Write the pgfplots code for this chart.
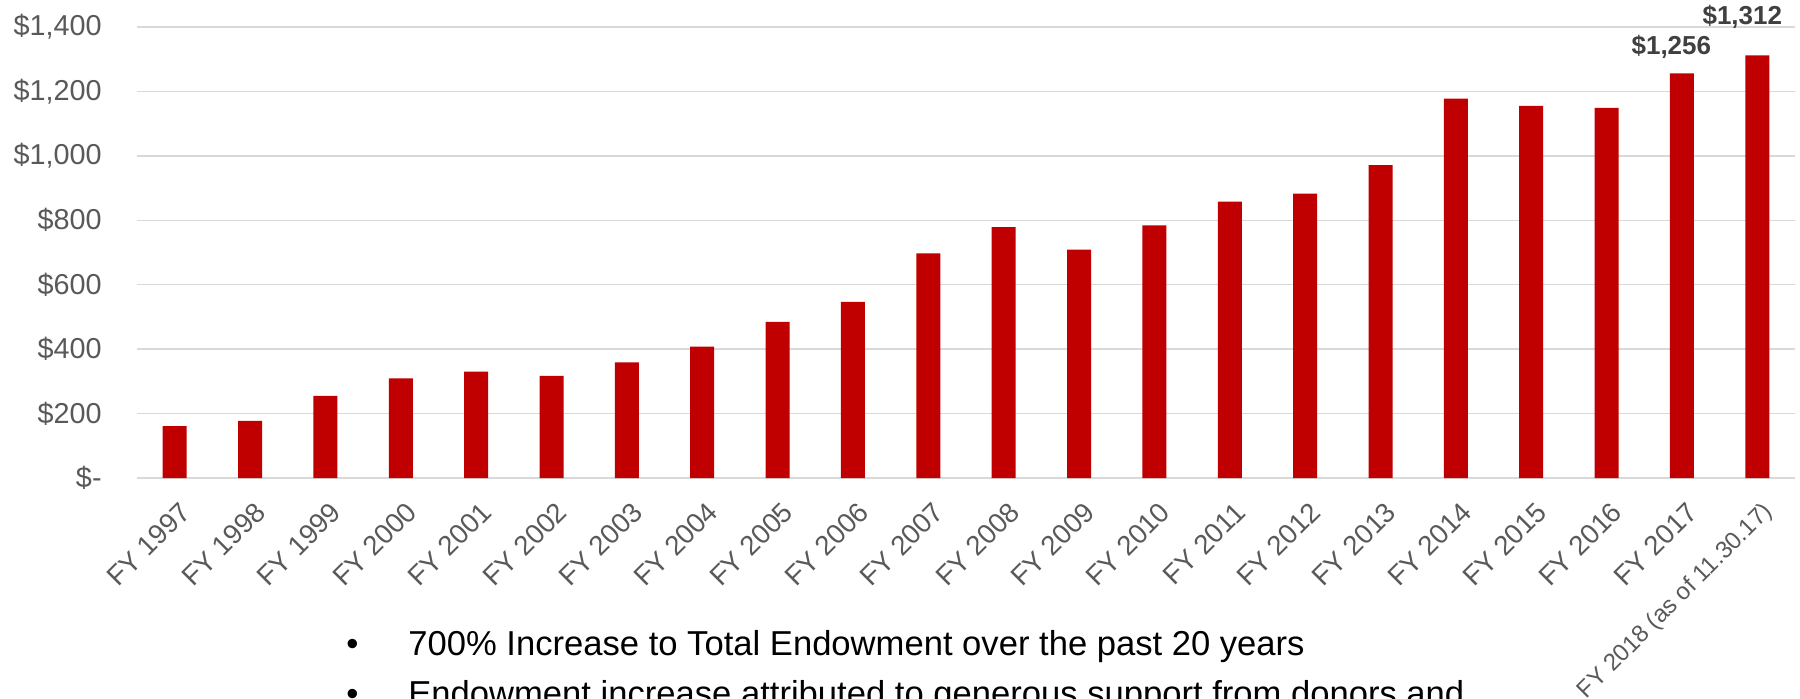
\documentclass[border=0pt]{standalone}
\usepackage{pgfplots}
\pgfplotsset{compat=1.18}
\usepackage{fontspec}
\setmainfont{Liberation Sans}
\definecolor{barred}{HTML}{C00000}
\definecolor{tickgray}{HTML}{595959}
\definecolor{gridgray}{HTML}{D9D9D9}
\definecolor{lblgray}{HTML}{404040}

\begin{document}
\begin{tikzpicture}[x=1pt,y=1pt]
\path[use as bounding box] (0,0) rectangle (900,349);
\clip (0,0) rectangle (900,349);
\begin{axis}[
    at={(68.5pt,110pt)}, anchor=south west,
    scale only axis, width=829pt, height=225.5pt,
    xmin=-0.5, xmax=21.5, ymin=0, ymax=1400,
    ytick={0,200,...,1400},
    yticklabels={{\$-},{\$200},{\$400},{\$600},{\$800},{\$1,000},{\$1,200},{\$1,400}},
    xtick={0,...,21},
    xticklabels={FY 1997,FY 1998,FY 1999,FY 2000,FY 2001,FY 2002,FY 2003,FY 2004,
        FY 2005,FY 2006,FY 2007,FY 2008,FY 2009,FY 2010,FY 2011,FY 2012,FY 2013,
        FY 2014,FY 2015,FY 2016,FY 2017,{\fontsize{12}{15}\selectfont FY 2018 (as of 11.30.17)}},
    axis line style={draw=none},
    major tick length=0pt,
    ymajorgrids, grid style={gridgray, line width=0.75pt},
    yticklabel style={font=\fontsize{14.4}{16}\selectfont, text=tickgray,
        anchor=east, inner sep=0pt, xshift=-17.5pt},
    xticklabel style={font=\fontsize{13.8}{16}\selectfont, text=tickgray,
        xshift=1.8pt, yshift=-11pt, rotate=45, anchor=north east, inner sep=0pt},
    clip=false,
]
\addplot[ybar, bar width=12pt, fill=barred, draw=none] coordinates {
    (0,161) (1,177) (2,255) (3,309) (4,330) (5,317) (6,359) (7,408)
    (8,485) (9,547) (10,697) (11,779) (12,709) (13,784) (14,858) (15,883)
    (16,971) (17,1178) (18,1155) (19,1149) (20,1256) (21,1312)
};
% data labels for the last two years
\addplot[draw=none, mark=none, point meta=explicit symbolic, nodes near coords,
    nodes near coords style={anchor=base, inner sep=0pt, xshift=-5.3pt, yshift=9.5pt,
        font=\bfseries\fontsize{13}{15}\selectfont, text=lblgray}]
    coordinates {(20,1256) [\$1,256]};
\addplot[draw=none, mark=none, point meta=explicit symbolic, nodes near coords,
    nodes near coords style={anchor=base, inner sep=0pt, xshift=-7.5pt, yshift=15.3pt,
        font=\bfseries\fontsize{13}{15}\selectfont, text=lblgray}]
    coordinates {(21,1312) [\$1,312]};
\end{axis}
\node[anchor=base, inner sep=0pt, font=\fontsize{17.3}{20}\selectfont] at (176.25,21.5) {•};
\node[anchor=base west, inner sep=0pt, font=\fontsize{17.3}{20}\selectfont] at (204,21.5)
    {700\% Increase to Total Endowment over the past 20 years};
\node[anchor=base, inner sep=0pt, font=\fontsize{17.3}{20}\selectfont] at (176.25,-3.5) {•};
\node[anchor=base west, inner sep=0pt, font=\fontsize{17.3}{20}\selectfont] at (204,-3.5)
    {Endowment increase attributed to generous support from donors and};
\end{tikzpicture}
\end{document}
